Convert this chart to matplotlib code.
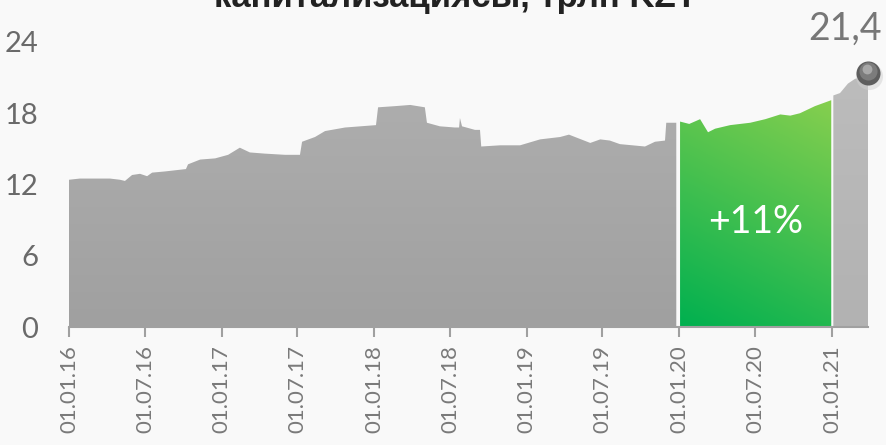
import numpy as np
import pandas as pd
import matplotlib
matplotlib.use("Agg")
import matplotlib.pyplot as plt
import matplotlib.dates as mdates
from matplotlib.colors import LinearSegmentedColormap

# capitalisation, trn KZT
dates_base = ["2016-01-01", "2016-01-27", "2016-03-03", "2016-04-08", "2016-05-02",
              "2016-05-14", "2016-05-31", "2016-06-19", "2016-07-06", "2016-07-18",
              "2016-08-18", "2016-10-07", "2016-10-12", "2016-11-10", "2016-12-16",
              "2017-01-16", "2017-02-13", "2017-03-09", "2017-04-14", "2017-06-01",
              "2017-07-07", "2017-07-12", "2017-08-12", "2017-09-05", "2017-10-23",
              "2018-01-05", "2018-01-10", "2018-02-20", "2018-03-28", "2018-05-02",
              "2018-05-07", "2018-06-07", "2018-07-13", "2018-07-23", "2018-07-25",
              "2018-07-30", "2018-08-30", "2018-09-11", "2018-09-14", "2018-10-29",
              "2018-12-16", "2019-02-02", "2019-03-22", "2019-04-12", "2019-06-02",
              "2019-06-26", "2019-07-19", "2019-08-12", "2019-10-11", "2019-11-04",
              "2019-11-28", "2019-12-01", "2019-12-25"]
values_base = [12.4, 12.5, 12.5, 12.5, 12.4,
               12.3, 12.8, 12.9, 12.7, 13.0,
               13.1, 13.3, 13.7, 14.1, 14.2,
               14.5, 15.1, 14.7, 14.6, 14.5,
               14.5, 15.6, 16.0, 16.5, 16.8,
               17.0, 18.5, 18.6, 18.7, 18.5,
               17.2, 16.9, 16.8, 16.8, 17.6,
               16.9, 16.6, 16.6, 15.2, 15.3,
               15.3, 15.8, 16.0, 16.2, 15.5,
               15.8, 15.7, 15.4, 15.2, 15.6,
               15.7, 17.2, 17.2]

dates_2020 = ["2020-01-03", "2020-01-25", "2020-02-20", "2020-03-10", "2020-03-27",
              "2020-05-02", "2020-06-19", "2020-07-25", "2020-08-30", "2020-09-23",
              "2020-10-16", "2020-11-21", "2020-12-30"]
values_2020 = [17.3, 17.1, 17.5, 16.4, 16.7,
               17.0, 17.2, 17.5, 17.9, 17.8,
               18.0, 18.6, 19.1]

dates_2021 = ["2021-01-04", "2021-01-20", "2021-02-08", "2021-02-25", "2021-03-14",
              "2021-03-28"]
values_2021 = [19.5, 19.7, 20.5, 20.9, 21.0, 21.4]

tick_dates = ["2016-01-01", "2016-07-01", "2017-01-01", "2017-07-01", "2018-01-01",
              "2018-07-01", "2019-01-01", "2019-07-01", "2020-01-01", "2020-07-01",
              "2021-01-01"]
tick_labels = ["01.01.16", "01.07.16", "01.01.17", "01.07.17", "01.01.18",
               "01.07.18", "01.01.19", "01.07.19", "01.01.20", "01.07.20",
               "01.01.21"]
y_ticks = [0, 6, 12, 18, 24]

title = "капитализациясы, трлн KZT"
growth_label = "+11%"
last_label = "21,4"

BG = "#f9f9f9"
plt.rcParams["font.family"] = ["Lato", "DejaVu Sans"]

fig = plt.figure(figsize=(8.87, 4.45), dpi=100, facecolor=BG)
ax = fig.add_axes([69 / 887, 118 / 445, (868 - 69) / 887, (327 - 42) / 445])
ax.set_facecolor(BG)

xb = mdates.date2num(pd.to_datetime(dates_base))
x20 = mdates.date2num(pd.to_datetime(dates_2020))
x21 = mdates.date2num(pd.to_datetime(dates_2021))


def gradient_fill(x, y, c_bottom, c_top, diag=0.0):
    poly = ax.fill_between(x, 0, y, color="none", lw=0)
    cmap = LinearSegmentedColormap.from_list("g", [c_bottom, c_top])
    gy, gx = np.mgrid[0:1:200j, 0:1:200j]
    grad = (gy + diag * gx) / (1 + diag)
    im = ax.imshow(grad, cmap=cmap, origin="lower", aspect="auto",
                   extent=[x[0], x[-1], 0, max(y)], zorder=1)
    im.set_clip_path(poly.get_paths()[0], transform=ax.transData)


gradient_fill(xb, values_base, "#a0a0a0", "#adadad")
gradient_fill(x20, values_2020, "#00b050", "#86cf4e", diag=0.35)
gradient_fill(x21, values_2021, "#b2b2b2", "#bcbcbc")

ax.set_xlim(xb[0], x21[-1])
ax.set_ylim(0, 24)
ax.set_yticks(y_ticks)
ax.set_yticklabels([str(v) for v in y_ticks], fontsize=21, fontweight="normal",
                   color="#6a6a6a")
ax.tick_params(axis="y", length=0, pad=22)

ax.set_xticks(mdates.date2num(pd.to_datetime(tick_dates)))
ax.set_xticklabels(tick_labels, rotation=90, fontsize=16, fontweight="normal",
                   color="#7a7a7a")
ax.tick_params(axis="x", length=7, width=1.5, color="#a0a0a0", pad=6)

for s in ["top", "right", "left"]:
    ax.spines[s].set_visible(False)
ax.spines["bottom"].set_color("#a0a0a0")
ax.spines["bottom"].set_linewidth(1.5)
ax.spines["bottom"].set_zorder(3)

# growth label inside green block
ax.text((x20[0] + x20[-1]) / 2, 8.8, growth_label, color="white", fontsize=27,
        ha="center", va="center", zorder=4)

# last point marker with shadow
ax.scatter([x21[-1] + 3], [21.1], s=380, color="#d0d0d0", alpha=0.5, lw=0,
           zorder=4, clip_on=False)
ax.scatter([x21[-1]], [values_2021[-1]], s=300, color="#5e5e5e", lw=0,
           zorder=5, clip_on=False)
ax.scatter([x21[-1] - 1], [values_2021[-1] + 0.15], s=170, color="#7c7c7c",
           lw=0, zorder=6, clip_on=False)
ax.scatter([x21[-1] - 2], [values_2021[-1] + 0.3], s=50, color="#a8a8a8",
           lw=0, zorder=7, clip_on=False)
fig.text(882 / 887, 1 - 40 / 445, last_label, color="#777777", fontsize=27,
         ha="right", va="baseline")

fig.text(456 / 887, 1 - 7 / 445, title, fontsize=25, fontweight="bold",
         color="#222222", ha="center", va="baseline",
         family=["Liberation Sans", "DejaVu Sans"])

fig.savefig("out.png", dpi=100, facecolor=BG)
